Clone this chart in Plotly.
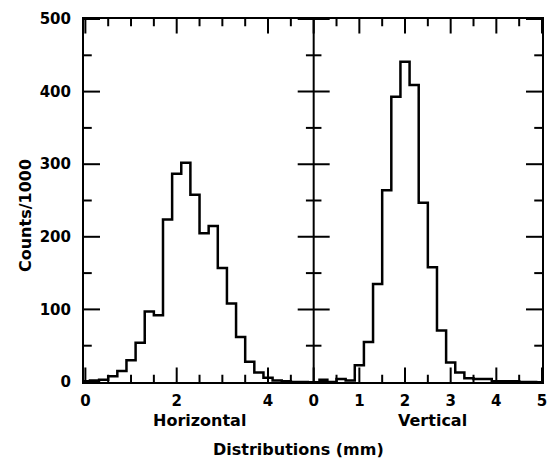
import plotly.graph_objects as go

# Bin width (mm) and left edges of histogram bins
bin_width = 0.2

# Horizontal distribution (left panel)
h_bin_lo = [-0.1, 0.1, 0.3, 0.5, 0.7, 0.9, 1.1, 1.3, 1.5, 1.7, 1.9, 2.1, 2.3, 2.5,
            2.7, 2.9, 3.1, 3.3, 3.5, 3.7, 3.9, 4.1, 4.3, 4.5, 4.7]
h_counts = [1, 2, 3, 8, 15, 30, 54, 97, 92, 224, 287, 302, 258, 205,
            215, 157, 108, 62, 28, 13, 6, 2, 1, 0, 0]

# Vertical distribution (right panel)
v_bin_lo = [0.1, 0.3, 0.5, 0.7, 0.9, 1.1, 1.3, 1.5, 1.7, 1.9, 2.1, 2.3, 2.5,
            2.7, 2.9, 3.1, 3.3, 3.5, 3.7, 3.9, 4.1, 4.3, 4.5, 4.7]
v_counts = [3, 0, 4, 2, 23, 55, 135, 264, 393, 441, 409, 247, 158,
            71, 27, 13, 5, 4, 4, 1, 1, 1, 0, 0]

# Tick values of each panel (mm)
left_ticks = [0, 2, 4]
left_minor = [0.5, 1, 1.5, 2.5, 3, 3.5, 4.5]
right_ticks = [0, 1, 2, 3, 4, 5]
right_minor = [0.5, 1.5, 2.5, 3.5, 4.5]
y_ticks = [0, 100, 200, 300, 400, 500]
y_minor = [50, 150, 250, 350, 450]

# Both panels share one x axis; the right panel starts at panel_offset
panel_offset = 5.0
x_range = [-0.03, 10.0]
y_range = [0, 500]

# tick lengths in axis units (x ticks: counts units, y ticks: mm units)
XT_MAJ, XT_MIN = 20, 10
YT_MAJ, YT_MIN = 0.35, 0.17


def step_xy(lo, counts, offset=0.0):
    xs = [v + offset for v in lo] + [lo[-1] + bin_width + offset]
    ys = list(counts) + [counts[-1]]
    return xs, ys


hx, hy = step_xy(h_bin_lo, h_counts)
vx, vy = step_xy(v_bin_lo, v_counts, panel_offset)

FONT = "DejaVu Sans"
tickfont = dict(family=FONT, size=15, color="black", weight="bold")
titlefont = dict(family=FONT, size=16, color="black", weight="bold")

fig = go.Figure()
fig.add_trace(go.Scatter(x=hx, y=hy, mode="lines",
                         line=dict(color="black", width=2.5, shape="hv"),
                         showlegend=False, hoverinfo="skip"))
fig.add_trace(go.Scatter(x=vx, y=vy, mode="lines",
                         line=dict(color="black", width=2.5, shape="hv"),
                         showlegend=False, hoverinfo="skip"))

# ---- tick marks and panel separator as line segments in data space ----
x_major = left_ticks + [panel_offset + v for v in right_ticks]
x_minor = left_minor + [panel_offset + v for v in right_minor]
tx, ty = [], []


def seg(xa, ya, xb, yb):
    tx.extend([xa, xb, None])
    ty.extend([ya, yb, None])


for xv, ln in [(v, XT_MAJ) for v in x_major] + [(v, XT_MIN) for v in x_minor]:
    seg(xv, y_range[0], xv, y_range[0] + ln)
    seg(xv, y_range[1], xv, y_range[1] - ln)

for yv, ln in [(v, YT_MAJ) for v in y_ticks] + [(v, YT_MIN) for v in y_minor]:
    seg(x_range[0], yv, x_range[0] + ln, yv)
    seg(x_range[1], yv, x_range[1] - ln, yv)
    seg(panel_offset - ln, yv, panel_offset + ln, yv)

seg(panel_offset, y_range[0], panel_offset, y_range[1])

fig.add_trace(go.Scatter(x=tx, y=ty, mode="lines",
                         line=dict(color="black", width=2),
                         showlegend=False, hoverinfo="skip"))

fig.update_layout(
    width=557, height=463,
    margin=dict(l=84, r=10, t=16, b=81),
    paper_bgcolor="white", plot_bgcolor="white",
    xaxis=dict(domain=[0, 1], range=x_range, tickmode="array",
               tickvals=x_major,
               ticktext=[str(v) for v in left_ticks] + [str(v) for v in right_ticks],
               ticks="", showline=True, linecolor="black", linewidth=2,
               mirror=True, showgrid=False, zeroline=False, tickfont=tickfont,
               ticklabelstandoff=4),
    yaxis=dict(domain=[0, 1], range=y_range, tickmode="array", tickvals=y_ticks,
               ticks="", showline=True, linecolor="black", linewidth=2,
               mirror=True, showgrid=False, zeroline=False, tickfont=tickfont,
               ticklabelstandoff=8),
    annotations=[
        dict(text="Counts/1000", x=-0.1274, y=0.459, xref="paper", yref="paper",
             textangle=-90, showarrow=False, xanchor="center", yanchor="middle",
             font=titlefont),
        dict(text="Horizontal", x=0.2527, y=-0.107, xref="paper", yref="paper",
             showarrow=False, xanchor="center", yanchor="middle", font=titlefont),
        dict(text="Vertical", x=0.762, y=-0.107, xref="paper", yref="paper",
             showarrow=False, xanchor="center", yanchor="middle", font=titlefont),
        dict(text="Distributions (mm)", x=0.4687, y=-0.185, xref="paper", yref="paper",
             showarrow=False, xanchor="center", yanchor="middle", font=titlefont),
    ],
)

fig.write_html("out.html")
